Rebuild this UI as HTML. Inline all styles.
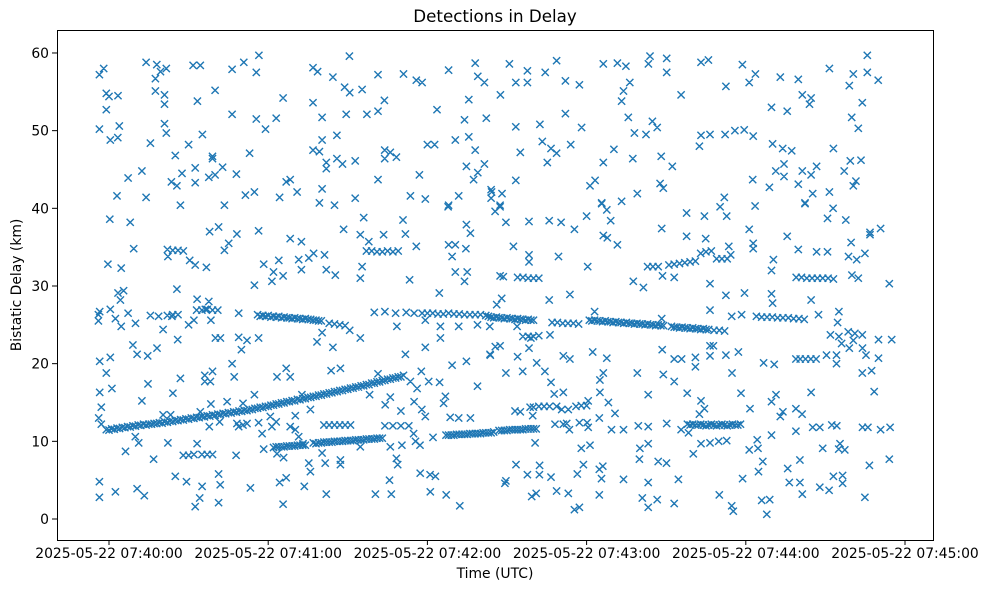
<!DOCTYPE html>
<html><head><meta charset="utf-8"><style>
html,body{margin:0;padding:0;background:#fff;}
svg{display:block;font-family:"DejaVu Sans","Liberation Sans",sans-serif;}
</style></head><body>
<svg id="chart" width="986" height="590" viewBox="0 0 986 590" xmlns="http://www.w3.org/2000/svg">
<rect x="0" y="0" width="986" height="590" fill="#fff"/>
<text x="495" y="22" text-anchor="middle" font-size="16.7">Detections in Delay</text>
<text x="495" y="578" text-anchor="middle" font-size="13.9">Time (UTC)</text>
<text transform="translate(21,285) rotate(-90)" text-anchor="middle" font-size="13.9">Bistatic Delay (km)</text>
<g id="ticks"></g>
<g id="marks"></g>
<rect x="57.5" y="30.5" width="876" height="510" fill="none" stroke="#000" stroke-width="1"/>
</svg>
<script>
// time in seconds after 2025-05-22 07:40:00, delay in km
const xTickLabels = ["2025-05-22 07:40:00","2025-05-22 07:41:00","2025-05-22 07:42:00","2025-05-22 07:43:00","2025-05-22 07:44:00","2025-05-22 07:45:00"];
const xTickSeconds = [0,60,120,180,240,300];
const yTickValues = [0,10,20,30,40,50,60];
const trackRising = [[-1,11.5],[1,11.6],[3,11.7],[5,11.8],[7,11.9],[9,12.0],[11,12.1],[13,12.2],[15,12.2],[17,12.3],[19,12.4],[21,12.5],[23,12.6],[25,12.7],[27,12.8],[29,12.9],[31,13.0],[33,13.1],[35,13.2],[37,13.3],[39,13.4],[41,13.5],[43,13.6],[45,13.7],[47,13.8],[49,13.9],[51,14.0],[53,14.1],[55,14.25],[57,14.4],[59,14.5],[61,14.65],[63,14.8],[65,14.95],[67,15.1],[69,15.25],[71,15.4],[73,15.5],[75,15.65],[77,15.8],[79,15.95],[81,16.1],[83,16.25],[85,16.4],[87,16.55],[89,16.7],[91,16.85],[93,17.0],[95,17.15],[97,17.3],[99,17.5],[101,17.65],[103,17.8],[105,18.0],[107,18.15],[109,18.3],[111,18.5]];
const trackRisingB = [[0,11.45],[2,11.55],[4,11.65],[6,11.75],[8,11.85],[10,11.95],[12,12.05],[14,12.1],[16,12.2],[18,12.3],[20,12.35],[22,12.45],[24,12.55],[26,12.65],[28,12.75],[30,12.85],[32,12.95],[34,13.05],[36,13.15],[38,13.25],[40,13.35],[42,13.45],[44,13.55],[46,13.65],[48,13.75],[50,13.85],[52,13.95],[54,14.1],[56,14.25],[58,14.35],[60,14.5],[62,14.65],[64,14.8],[66,14.95],[68,15.1],[70,15.2],[72,15.35],[74,15.5],[76,15.65],[78,15.8],[80,15.95],[82,16.1],[84,16.25],[86,16.4],[88,16.55],[90,16.7],[92,16.85],[94,17.0],[96,17.15],[98,17.3],[100,17.5],[102,17.65],[104,17.85],[106,18.0],[108,18.15],[110,18.3]];
const track26 = [[56,26.3],[58,26.2],[60,26.2],[62,26.1],[64,26.1],[66,26.0],[68,25.9],[70,25.9],[72,25.8],[74,25.8],[76,25.7],[78,25.6],[80,25.5],[83,25.2],[85,25.1],[87,25.0],[89,24.9],
[100,26.6],[104,26.7],[108,26.5],[112,26.6],[115,26.5],[118,26.5],[120,26.5],[122,26.5],[124,26.4],[126,26.4],[128,26.5],[130,26.4],[132,26.4],[134,26.3],[136,26.3],[138,26.3],[140,26.3],[142,26.2],[144,26.0],[146,26.0],[148,25.9],[150,25.9],[152,25.8],[154,25.8],[156,25.7],[158,25.7],[160,25.6],
[167,25.3],[169,25.3],[171,25.2],[173,25.2],[175,25.2],[177,25.1],
[181,25.6],[183,25.6],[185,25.5],[187,25.5],[189,25.4],[191,25.4],[193,25.3],[195,25.3],[197,25.2],[199,25.2],[201,25.1],[203,25.1],[205,25.0],[207,25.0],[209,24.9],
[212,24.8],[214,24.7],[216,24.7],[218,24.6],[220,24.6],[222,24.5],[224,24.5],[226,24.4],[228,24.3],[230,24.3],[232,24.2],
[244,26.1],[246,26.0],[248,26.0],[250,26.0],[252,25.9],[254,25.9],[256,25.9],[258,25.8],[260,25.8],[262,25.7],
[33,26.9],[35,26.9],[37,27.0],[39,26.9],[41,26.9],[22,26.2],[24,26.3],[26,26.3]];
const track26B = [[57,26.1],[59,26.1],[61,26.0],[63,26.0],[65,25.9],[67,25.9],[69,25.8],[71,25.8],[73,25.7],[75,25.7],[77,25.6],[79,25.5],[143,26.1],[145,25.9],[147,25.9],[149,25.8],[151,25.8],[153,25.7],[155,25.7],[157,25.6],[159,25.6],[182,25.5],[184,25.5],[186,25.4],[188,25.4],[190,25.3],[192,25.3],[194,25.2],[196,25.2],[198,25.1],[200,25.1],[202,25.0],[204,25.0],[206,24.9],[208,24.9],[213,24.7],[215,24.6],[217,24.6],[219,24.5],[221,24.5],[223,24.4],[225,24.4]];
const trackUpper = [[154,31.1],[156,31.1],[158,31.0],[160,31.0],[162,31.0],
[203,32.5],[205,32.5],[207,32.5],[211,32.7],[213,32.8],[215,32.9],[217,33.0],[219,33.1],[221,33.2],[223,34.2],[225,34.4],[227,34.5],[229,33.5],[231,33.5],[233,33.5],
[259,31.1],[261,31.1],[263,31.0],[265,31.0],[267,31.0],[269,31.0],[271,31.0],[273,30.9],
[22,34.7],[24,34.6],[26,34.6],[28,34.5],[97,34.5],[99,34.5],[101,34.4],[103,34.4],[105,34.5],[107,34.4],[109,34.5],
[156,23.5],[158,23.5],[160,23.5],[162,23.6]];
const trackLower = [[62,9.2],[64,9.3],[66,9.3],[68,9.4],[70,9.4],[72,9.5],[74,9.5],[77,9.8],[79,9.8],[81,9.9],[83,9.9],[85,10.0],[87,10.0],[89,10.1],[91,10.1],[93,10.2],[95,10.2],[97,10.3],[99,10.3],[101,10.4],[103,10.4],
[127,10.8],[129,10.8],[131,10.9],[133,10.9],[135,10.9],[137,11.0],[139,11.0],[141,11.1],[143,11.1],[145,11.2],[147,11.4],[149,11.4],[151,11.5],[153,11.5],[155,11.5],[157,11.6],[159,11.6],[161,11.6],
[81,12.1],[83,12.1],[85,12.1],[87,12.1],[89,12.1],[91,12.1],[104,12.0],[107,12.0],[110,12.0],[113,12.0],
[218,12.2],[220,12.2],[222,12.1],[224,12.1],[226,12.1],[228,12.1],[230,12.1],[232,12.1],[234,12.1],[236,12.1],[238,12.2],
[160,14.4],[162,14.5],[164,14.5],[166,14.5],[176,14.5],[178,14.6],[180,14.6],
[28,8.2],[30,8.2],[32,8.3],[35,8.3],[37,8.3],[39,8.3]];
const trackLowerB = [[63,9.3],[65,9.3],[67,9.4],[69,9.4],[71,9.5],[73,9.5],[78,9.7],[80,9.8],[82,9.9],[84,9.9],[86,10.0],[88,10.0],[90,10.1],[92,10.1],[94,10.2],[96,10.2],[98,10.3],[100,10.3],[102,10.4],[128,10.8],[130,10.8],[132,10.9],[134,10.9],[136,11.0],[138,11.0],[140,11.0],[142,11.1],[144,11.1],[148,11.4],[150,11.4],[152,11.5],[154,11.5],[156,11.5],[158,11.6],[160,11.6],[219,12.1],[221,12.1],[223,12.2],[225,12.0],[227,12.2],[229,12.0],[231,12.2],[233,12.0],[235,12.2],[237,12.1]];
const scatterTop = [[-3.6,57.2],[-2,58.0],[14,58.8],[18,58.5],[17.5,56.7],[19.4,57.6],[21.6,58.0],[31.7,58.4],[34.4,58.4],[46.4,57.9],[50.8,58.8],[56.5,59.7],[55.5,57.5],[76.9,58.1],[78.6,57.6],[90.6,59.6],[84.4,56.9],[101.4,57.2],[111,57.3],[115.8,56.5],[118,56.2],[128,57.8],[138,58.7],[139,57.0],[141.5,56.2],[-1,54.8],[0,54.4],[3.4,54.5],[-1,52.7],[-3.6,50.2],[3.9,50.6],[0.5,48.8],[3.3,49.1],[17.5,55.1],[20.9,54.6],[20.9,53.4],[20.9,50.9],[21.6,49.7],[15.6,48.4],[33.3,53.8],[40,55.2],[35.2,49.5],[30,48.2],[25,46.8],[39,46.7],[39,46.4],[32.5,45.2],[27.5,44.5],[23.5,43.4],[25.6,42.9],[32.5,43.3],[37.6,44],[40,44.3],[42.8,45.3],[48,44.4],[7.2,43.9],[12.4,44.8],[3,41.6],[14,41.4],[26.9,40.4],[43.5,40.4],[46.4,52.1],[55.5,51.5],[59,50.2],[63,51.6],[53,47.1],[51.4,41.7],[54.8,42.1],[64.3,41.4],[66.8,43.4],[68.3,43.7],[70.9,42.1],[65.6,54.2],[76.9,53.6],[80.3,51.7],[89.4,52.1],[97.2,52.1],[101.4,52.5],[103.8,53.9],[95.4,55.3],[88.8,55.6],[90.7,54.9],[80.3,48.8],[85.9,49.4],[76.9,47.5],[79.3,47.3],[81.9,45.9],[81.9,45.1],[85.9,46.4],[88,45.7],[92.8,46.1],[103.9,47.5],[103.9,46.4],[106,47.2],[108.3,46.6],[101.4,43.7],[80.3,42.5],[79.3,40.7],[85,40.4],[92.8,41.3],[117,44.3],[113.6,41.6],[119.2,41.2],[123.6,52.7],[120,48.2],[122.7,48.2],[130.5,48.8],[135.6,49.2],[134,51.4],[135.6,54.0],[142.2,51.6],[138,47.5],[134.7,45.4],[139,44.6],[141.5,45.7],[137.4,43.7],[131.8,41.6],[128,40.4],[144,42.4],[144,41.3],
[150.9,58.6],[157.7,57.7],[153.3,56.2],[157.7,56.2],[164.4,57.5],[168.7,59.0],[172,56.4],[177.3,55.9],[147.5,54.6],[153.3,50.5],[162.4,50.8],[172,52.2],[178.1,50.4],[163.3,48.6],[166.6,47.7],[168.7,47.1],[155,47.2],[174,48.2],[165.2,45.9],[153.3,43.6],[144.2,42.1],[148.1,41.9],[147.4,40.4],[186.3,58.6],[191.6,58.7],[194.8,58.3],[203.3,58.6],[203.9,59.6],[210.2,59.3],[210.2,57.5],[196.3,56.2],[193.9,55.1],[193.2,53.8],[215.6,54.6],[223.1,58.8],[225.9,59.1],[238.7,58.5],[243.6,57.3],[241.3,56.2],[232.5,55.7],[253,56.9],[259.8,56.6],[271.5,58.0],[280.5,57.3],[279,55.8],[285.8,59.7],[285.8,57.5],[289.9,56.5],[261.3,54.6],[264.6,54.2],[264,53.4],[249.7,53],[255.6,52.5],[283.9,53.6],[279.9,51.7],[282.4,50.3],[195.7,51.7],[204.8,51.2],[206.6,50.4],[198.0,49.7],[202.4,49.5],[222.5,48.0],[223.1,49.4],[226.5,49.5],[232.2,49.5],[235.9,50.0],[239.4,50.1],[242.8,49.3],[190.3,47.6],[186.3,45.9],[197.4,46.4],[208.1,46.7],[212.3,45.4],[183.2,43.6],[181.3,42.9],[207.7,43.2],[208.9,42.6],[199.1,41.9],[185.7,40.7],[193.2,40.9],[250.1,48.3],[253.9,47.7],[257.3,47.4],[251.3,44.8],[254.4,45.7],[254.4,44.1],[261.3,44.8],[264.6,44.3],[266.7,45.4],[259.8,43.1],[265.2,41.9],[262.3,40.7],[242.6,43.7],[248.9,42.7],[231.9,41.4],[243.5,40.3],[273,47.7],[271.5,42.1],[277.1,44.8],[279.4,46.1],[283.4,46.2],[280.5,42.9],[281.5,43.5]];
const scatterLeft = [[0.3,38.6],[8,38.2],[9.3,34.8],[-0.4,32.8],[4.6,32.3],[22.2,33.8],[30.4,33.3],[32.5,32.7],[36.7,32.4],[37.9,37],[41.3,37.6],[48.2,36.7],[56.4,37.1],[45.1,35.5],[43.5,34.6],[25.6,29.6],[58.3,32.8],[62,31.8],[65.6,31.3],[61.4,30.6],[54.8,30.1],[64,33.3],[68.3,36.1],[72.5,35.7],[71.5,33.4],[75.3,33.6],[77.1,34.2],[81.2,34],[72.5,32.1],[81.9,32.1],[85.3,31.4],[88.4,37.3],[94.7,36.6],[96,38.8],[97.9,35.7],[103.5,36.6],[110.8,38.5],[111.7,36.7],[115.8,35.1],[95.4,32.5],[94.7,31],[113.3,30.8],[124.5,29.1],[128,35.3],[130.5,35.3],[129.3,33.8],[130.5,31.8],[135,31.8],[134,30.6],[134.7,37.9],[136.2,36.8],[134.5,34.8],[127.8,40.2],
[-4,26.3],[-3.5,26.7],[-4,25.5],[0.5,27],[2.4,25.8],[4.6,24.8],[3.4,29.1],[5.5,29.4],[4.3,28.2],[7.2,26.5],[10,25.2],[15.6,26.2],[18.7,26.1],[23.7,26.1],[20.4,24.4],[25.9,23.1],[30,25],[33.2,28.3],[37.6,28],[36.3,27],[38.4,25.6],[32,25.6],[48.9,26.5],[40.1,23.3],[42,23.3],[48.9,23.4],[52,23],[56.4,23.3],[49.9,21.8],[9,22.4],[10.6,21.2],[14.6,21],[18.1,22],[-3.5,20.3],[0.5,20.8],[-1,18.8],[-3.5,16.3],[-2.9,14.4],[-3.9,13],[-2.9,12.2],[1.1,16.8],[12.4,15.2],[14.7,17.4],[24.1,16.2],[26.9,18.1],[36.1,18.5],[36.1,17.7],[38.2,17.7],[39,19],[46.4,20],[47.2,18.3],[54.8,16],[38.4,14.8],[44.5,15.1],[50.5,14.9],[34.4,13.8],[20.4,13.4],[23.2,13.4],[37.8,11.9],[41.7,12.5],[48.2,12.3],[50.5,12.1],[52,12.3],[48.9,11.9],[56.4,12.4],[57.7,11],[60.8,13.2],[63,12.5],[61.4,11.9],[66.8,19.4],[63.3,18.3],[68.3,18.3],[72.7,16],[70.2,13.3],[75.9,14.1],[68.3,11.9],[70.2,11.5],[71.5,10.6],[73.1,9.7],[83.7,19.1],[87.2,19.4],[78.4,22.8],[80.3,24],[84.4,22.1],[90.7,24.3],[94.7,23.3],[98.2,16],[101.4,18.7],[106,15.7],[104.1,14.7],[110,13.9],[113.6,17.7],[116.1,16.8],[111.7,21.2],[119.2,22.1],[117.7,19],[120.5,17.7],[124.6,17.6],[115,15.1],[117.9,14.1],[119.2,13.2],[126.8,15.8],[126.1,14.9],[129.3,19.8],[134.7,20.3],[138.9,17.1],[128.6,13.1],[131.8,13],[136.2,13],[124.9,23.3],[119.2,25.6],[124.9,24.8],[108.5,24.8],[143.7,21.1],[145.6,22.2],[143.5,24.8],[131.8,24.8],[138.9,25],
[6.2,8.7],[16.8,7.7],[9.9,10.6],[11.2,9.8],[22.2,9.8],[33.2,9.7],[47.9,8.2],[58.3,9],[63.3,8.4],[65.8,7.9],[75.3,7.2],[75.9,6.1],[81.5,7.2],[87.2,7.6],[87.2,7],[80.3,8.5],[94.7,9.3],[106,9.3],[110.4,9.5],[108.3,7.8],[108.8,7],[114.8,11],[117.2,9.5],[115.5,10],[122.1,10.5],[-3.6,4.8],[-3.6,2.8],[2.4,3.5],[10.6,3.9],[13.3,3],[25,5.5],[29.2,4.8],[35.1,4.2],[41.3,5.8],[41.9,4.4],[34.2,2.7],[32.5,1.6],[41.3,2.1],[53.3,4],[64.3,4.7],[66.8,5.3],[73.6,4.2],[65.6,1.9],[81.9,3.2],[100.4,3.2],[106.4,3.2],[105.7,5],[117.3,5.9],[121,5.7],[123,5.5],[121.1,3.5],[127.1,3.1],[132.2,1.7]];
const scatterRight = [[145.5,39.6],[147.4,40.2],[149.6,38.2],[158.3,38.3],[165.9,38.4],[170.4,38.2],[175.4,37.3],[180,39],[185.7,40.6],[187.6,39.8],[189.1,38.4],[186.3,36.5],[187.8,36.2],[191.6,35.3],[193.2,40.9],[208.3,37.4],[217.7,39.4],[224.4,39],[217.7,36.4],[224.9,36.1],[230.3,40.2],[232.8,39],[233.6,35.1],[234.3,34],[241.3,37.3],[242.8,35.5],[242.8,34.8],[243.5,40.3],[250.4,33.4],[255.6,36.4],[259.8,34.7],[262.3,40.6],[266.7,34.4],[270.8,34.4],[270.8,38.7],[272.9,40],[277.7,38.5],[279.7,35.6],[278.7,33.8],[281.8,33.4],[284.9,34.2],[286.8,36.6],[286.8,36.9],[290.8,37.4],[280,31.4],[282.4,31],[294.1,30.3],[180.4,32.5],[169.4,33.8],[158.3,34],[158.3,33.1],[152.4,35.1],[147.4,31.3],[148.6,31.2],[148,28.4],[146.1,27.6],[165.9,28.2],[173.7,28.9],[197.6,30.6],[201.4,29.8],[208.6,31.3],[213,31.1],[226.5,30.3],[232.5,28.8],[239.5,29.1],[249.7,29],[250.1,27.8],[264.6,28.2],[249.7,32],[226.5,26.9],[183,26.7],[208.3,25.8],[234.7,26.1],[238.4,26.3],[267.4,26.3],[275.1,26.7],[274.6,25.3],[271.9,23.7],[275.1,23.5],[278.6,24.1],[281.1,23.9],[280.5,23],[283.9,23.7],[290,23.1],[295,23.1],[276.1,22.6],[279,22],[284,22],[285.3,21.1],[290,20.7],[274.2,21.1],[274.2,20],[270.4,21.1],[258.9,20.6],[260.5,20.6],[262.5,20.6],[264.5,20.6],[266.5,20.6],[147.4,22.3],[143.6,21.2],[154,20.9],[158.3,22],[171.2,21],[173.7,20.6],[187.6,20.7],[182.3,21.5],[166.2,23.7],[153.8,24.8],[159,23.3],[149.6,18.8],[155.9,19],[161.2,20.1],[164.3,19],[166.6,17.6],[167.8,16.1],[171.2,16.3],[185,17.9],[186.3,18.8],[185,16.3],[180.6,15.2],[188.2,15],[190.7,13.6],[184.8,13],[199.1,18.8],[208.9,18.6],[213,17.7],[203.2,16],[217.9,16.2],[223.1,15.2],[224.4,14.2],[222.5,13.5],[208.5,21.8],[213,20.6],[215.8,20.6],[221,20.8],[221,19.6],[226.5,22.3],[227.8,22.3],[226.5,21],[232.5,21.1],[237.2,21.5],[234.8,18.8],[238.2,16.2],[241.6,14.2],[246.7,20.1],[250.7,19.9],[251.4,16],[249.7,15.1],[254,13.8],[258.9,14.2],[261.2,13.5],[253,13.2],[264.6,16.3],[288.4,16.4],[287.4,19.1],[283.9,18.8],[258.9,11.3],[265.2,11.8],[267.9,11.8],[272.4,12.1],[274.3,12],[284,11.8],[286,11.8],[290.8,11.5],[294.4,11.8],[294.1,7.7],[286.6,6.9],[275.5,9.7],[277.3,8.9],[275,9],[269,9.1],[260.4,7.6],[255.8,6.5],[256.4,4.7],[260.4,4.7],[261.3,3.2],[267.9,4.1],[271.4,3.7],[273,5.5],[276.5,4.6],[276.5,5.6],[284.9,2.8],[249.7,10.8],[244.3,10.2],[244.6,9.1],[241.3,8.9],[246.4,7.4],[244.8,6.1],[238.8,5.2],[230,3.1],[234.7,1.7],[235.3,1],[246,2.4],[249,2.5],[247.9,0.6],[220.2,8.4],[223.1,9.7],[226.5,9.8],[229.8,10],[232.8,10.1],[218.4,11.1],[215.6,11.5],[210.2,12.3],[203.2,11.9],[199.5,12],[200.1,9.1],[203.2,9.7],[199.9,7.7],[207,7.4],[210.1,7.2],[203.2,4.7],[214.6,5.1],[201,2.7],[206.6,2.5],[203.2,1.5],[213,2],[193.9,5.1],[184.8,3.1],[184.8,6.4],[186.1,6.8],[185.6,5.2],[178,9.1],[181.3,9.5],[178.8,7],[176.5,5.8],[175.4,1.2],[177.3,1.5],[173.1,3.3],[168.7,3.6],[166.6,5.4],[162.2,5.7],[162.3,6.9],[157.7,5.7],[159.3,2.9],[161,3.3],[153.4,7],[149.2,4.6],[149.6,4.9],[160.6,9.8],[168.1,12.2],[171.2,12.2],[177.3,12.4],[180.2,12.4],[173.5,11.5],[180.6,11.8],[189.4,11.5],[193.9,11.5],[159.7,13.3],[153,13.9],[155,13.8],[158.7,14.4],[168.7,14.5],[170.6,14.1],[173.1,14.1],[172.5,12.3]];

const NS = "http://www.w3.org/2000/svg";
function xScale(s){ return 109 + s * 159.2 / 60; }
function yScale(d){ return 519 - d * 7.767; }

const ticksG = document.getElementById("ticks");
xTickSeconds.forEach(function(s, i){
  const x = xScale(s);
  const ln = document.createElementNS(NS, "line");
  ln.setAttribute("x1", x); ln.setAttribute("x2", x);
  ln.setAttribute("y1", 540); ln.setAttribute("y2", 545);
  ln.setAttribute("stroke", "#000");
  
  
  ticksG.appendChild(ln);
  const t = document.createElementNS(NS, "text");
  t.setAttribute("x", x); t.setAttribute("y", 558);
  t.setAttribute("text-anchor", "middle");
  t.setAttribute("font-size", "13.9");
  t.textContent = xTickLabels[i];
  
  
  ticksG.appendChild(t);
});
yTickValues.forEach(function(v){
  const y = yScale(v);
  const ln = document.createElementNS(NS, "line");
  ln.setAttribute("x1", 52); ln.setAttribute("x2", 57);
  ln.setAttribute("y1", y); ln.setAttribute("y2", y);
  ln.setAttribute("stroke", "#000");
  
  
  ticksG.appendChild(ln);
  const t = document.createElementNS(NS, "text");
  t.setAttribute("x", 49); t.setAttribute("y", y + 5);
  t.setAttribute("text-anchor", "end");
  t.setAttribute("font-size", "13.9");
  t.textContent = String(v);
  
  
  ticksG.appendChild(t);
});

const marksG = document.getElementById("marks");
const groups = [trackRising, trackRisingB, track26, track26B, trackUpper, trackLower, trackLowerB, scatterTop, scatterLeft, scatterRight];
let dstr = "";
groups.forEach(function(g){
  g.forEach(function(p){
    const cx = xScale(p[0]), cy = yScale(p[1]);
    dstr += "M" + (cx-3.6).toFixed(1) + " " + (cy-3.6).toFixed(1) + "L" + (cx+3.6).toFixed(1) + " " + (cy+3.6).toFixed(1) +
            "M" + (cx-3.6).toFixed(1) + " " + (cy+3.6).toFixed(1) + "L" + (cx+3.6).toFixed(1) + " " + (cy-3.6).toFixed(1);
  });
});
const path = document.createElementNS(NS, "path");
path.setAttribute("d", dstr);
path.setAttribute("stroke", "#1f77b4");
path.setAttribute("stroke-width", "1.4");
path.setAttribute("fill", "none");


marksG.appendChild(path);
</script>
</body></html>
